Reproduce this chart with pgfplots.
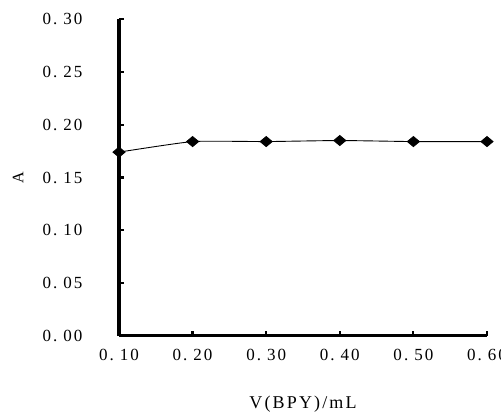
\documentclass[border=0pt]{standalone}
\usepackage{pgfplots}
\pgfplotsset{compat=1.18}
\usepackage{fontspec}
\setmainfont{Liberation Serif}
\newfontfamily\widefont[LetterSpace=12]{Liberation Serif}
\newfontfamily\tickfont[LetterSpace=12]{Liberation Serif}
\newcommand{\tl}[1]{0.\hspace{6pt}#1}
\begin{document}
\begin{tikzpicture}
\path[use as bounding box] (-119pt,-76pt) rectangle (382pt,336pt);
\begin{axis}[
  scale only axis,
  width=368pt, height=317pt,
  at={(0pt,0pt)}, anchor=origin,
  xmin=0.1, xmax=0.6,
  ymin=0, ymax=0.3,
  axis x line*=bottom, axis y line*=left,
  axis line style={line width=3pt, -, black},
  every outer x axis line/.append style={line width=3pt, -},
  every outer y axis line/.append style={line width=3.2pt, -},
  tick style={line width=2.2pt, black},
  tick align=inside,
  major tick length=5pt,
  xtick={0.1,0.2,0.3,0.4,0.5,0.6},
  xticklabels={\tl{10},\tl{20},\tl{30},\tl{40},\tl{50},\tl{60}},
  ytick={0,0.05,0.1,0.15,0.2,0.25,0.3},
  yticklabels={\tl{00},\tl{05},\tl{10},\tl{15},\tl{20},\tl{25},\tl{30}},
  tick label style={font=\fontsize{17}{19}\selectfont\tickfont},
  yticklabel style={xshift=-33pt},
  xticklabel style={yshift=-10pt},
  xlabel={V(BPY)/mL},
  ylabel={A},
  xlabel style={font=\fontsize{18}{20}\selectfont\widefont, at={(rel axis cs:0.5,0)}, anchor=center, yshift=-68pt},
  ylabel style={font=\fontsize{16}{18}\selectfont, at={([xshift=-101pt]rel axis cs:0,0.5)}, anchor=center},
  clip=false,
]
\addplot[black, line width=0.9pt, smooth, tension=0.3, mark=diamond*,
  mark size=5pt, mark options={xscale=1.6, solid, fill=black}]
coordinates{
(0.1,0.174)
(0.2,0.184)
(0.3,0.184)
(0.4,0.185)
(0.5,0.184)
(0.6,0.184)
};
\end{axis}
\end{tikzpicture}
\end{document}
